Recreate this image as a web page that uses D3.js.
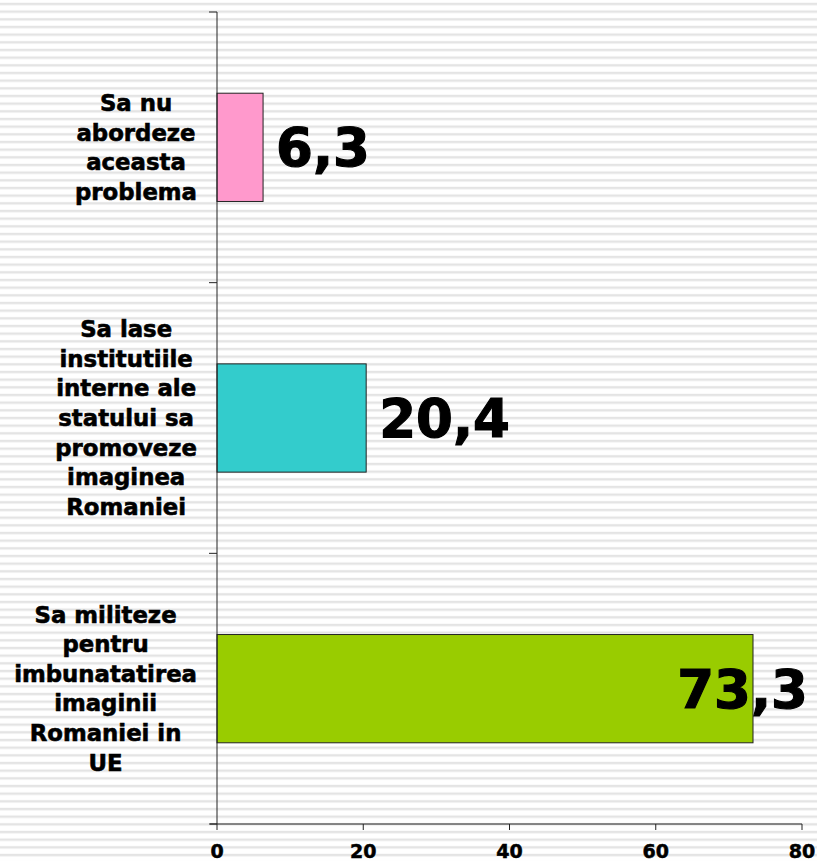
<!DOCTYPE html>
<html>
<head>
<meta charset="utf-8">
<script src="https://cdn.jsdelivr.net/npm/d3@7"></script>
<style>
  body{margin:0;padding:0;background:#fff;}
  text{font-family:"DejaVu Sans",Verdana,sans-serif;font-weight:bold;}
</style>
</head>
<body>
<div id="root"></div>
<script>
// data
var categories=['nu','lase','militeze'];
var labels=[
  ['Sa nu','abordeze','aceasta','problema'],
  ['Sa lase','institutiile','interne ale','statului sa','promoveze','imaginea','Romaniei'],
  ['Sa militeze','pentru','imbunatatirea','imaginii','Romaniei in','UE']
];
var values=[6.3,20.4,73.3];
var valueText=['6,3','20,4','73,3'];
var colorsList=['#ff99cc','#33cccc','#99cc00'];
var xTicks=[0,20,40,60,80];

var W=817,H=861;
var margin={t:12,r:15,b:37,l:217};
var w=W-margin.l-margin.r, h=H-margin.t-margin.b;

var svg=d3.select('#root').append('svg')
  .attr('width',W).attr('height',H);

// striped background
var defs=svg.append('defs');
var pat=defs.append('pattern').attr('id','stripes')
  .attr('patternUnits','userSpaceOnUse')
  .attr('width',10).attr('height',7.667);
pat.append('rect').attr('width',10).attr('height',7.667).attr('fill','#ffffff');
pat.append('rect').attr('y',2.8).attr('width',10).attr('height',2.4).attr('fill','#e4e4e4');
svg.append('rect').attr('width',W).attr('height',H).attr('fill','url(#stripes)');

var g=svg.append('g').attr('transform','translate('+margin.l+','+margin.t+')');

var xScale=d3.scaleLinear().domain([0,80]).range([0,585]);
var yScale=d3.scaleBand().domain(categories).range([0,h])
  .paddingInner(0.6).paddingOuter(0.3);

// bars
g.selectAll('rect.bar').data(values).enter().append('rect')
  .attr('class','bar')
  .attr('x',0)
  .attr('y',function(d,i){return yScale(categories[i])})
  .attr('width',function(d){return xScale(d)})
  .attr('height',yScale.bandwidth())
  .attr('fill',function(d,i){return colorsList[i]})
  .attr('stroke','#222').attr('stroke-width',1);

// x axis
var xAxis=g.append('g').attr('transform','translate(0,'+h+')');
xAxis.append('line').attr('x1',-7).attr('x2',xScale(80)).attr('y1',0).attr('y2',0)
  .attr('stroke','#222').attr('stroke-width',1);
xAxis.selectAll('line.tick').data(xTicks).enter().append('line')
  .attr('x1',function(d){return xScale(d)}).attr('x2',function(d){return xScale(d)})
  .attr('y1',0).attr('y2',6).attr('stroke','#222');
xAxis.selectAll('text').data(xTicks).enter().append('text')
  .attr('x',function(d){return xScale(d)}).attr('y',34)
  .attr('text-anchor','middle').style('font-size','19px').attr('fill','#000')
  .attr('stroke','#000').attr('stroke-width',0.5)
  .text(function(d){return d});

// y axis
var step=yScale.step();
var bounds=categories.map(function(c){return yScale(c)-step*yScale.paddingOuter()});
bounds.push(h);
g.append('line').attr('x1',0).attr('x2',0).attr('y1',0).attr('y2',h)
  .attr('stroke','#222').attr('stroke-width',1);
g.selectAll('line.ytick').data(bounds).enter().append('line')
  .attr('x1',-8).attr('x2',0)
  .attr('y1',function(d){return d}).attr('y2',function(d){return d})
  .attr('stroke','#222');

// category labels
var lineH=29.6;
labels.forEach(function(lines,i){
  var cy=yScale(categories[i])+yScale.bandwidth()/2;
  var grp=g.append('g');
  var t=grp.selectAll('text').data(lines).enter().append('text')
    .attr('y',function(d,j){return cy+(j-(lines.length-1)/2)*lineH+8})
    .attr('text-anchor','middle').style('font-size','22.8px').attr('fill','#000')
    .attr('stroke','#000').attr('stroke-width',0.6)
    .text(function(d){return d});
  var maxW=0;
  t.each(function(){maxW=Math.max(maxW,this.getComputedTextLength())});
  t.attr('x',-20-maxW/2);
});

// value labels
g.selectAll('text.val').data(values).enter().append('text')
  .attr('class','val')
  .style('font-size','53px').attr('fill','#000')
  .attr('stroke','#000').attr('stroke-width',1.2)
  .attr('y',function(d,i){return yScale(categories[i])+yScale.bandwidth()/2+19})
  .text(function(d,i){return valueText[i]})
  .each(function(d){
    var tw=this.getComputedTextLength();
    var x=xScale(d)+13;
    if(x+tw>W-margin.l-9){x=W-margin.l-9-tw}
    d3.select(this).attr('x',x);
  });
</script>
</body>
</html>
